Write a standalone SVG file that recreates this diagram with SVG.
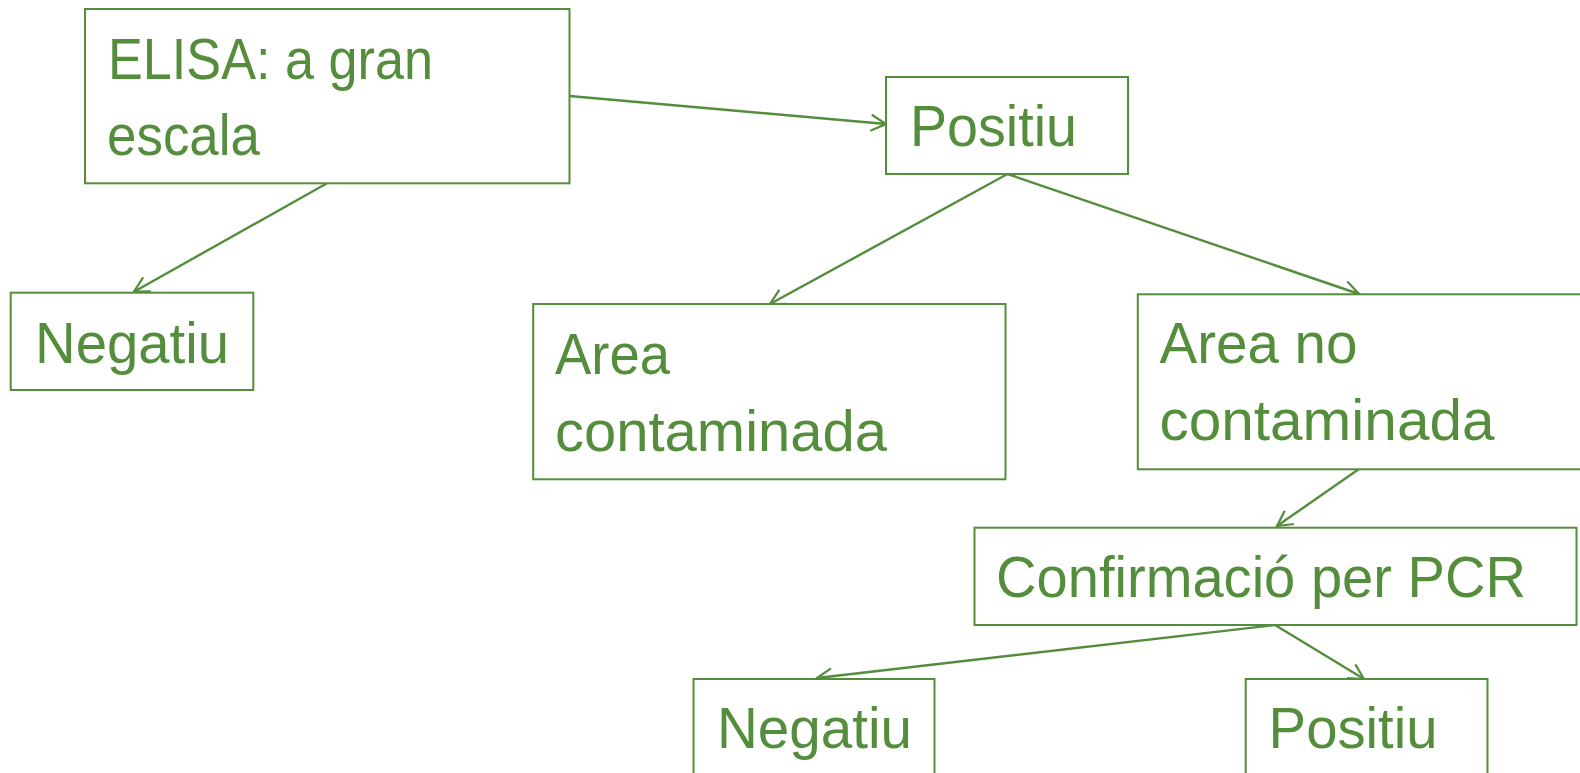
<svg xmlns="http://www.w3.org/2000/svg" width="1580" height="773" viewBox="0 0 1580 773">
<style>
.box{fill:#ffffff;stroke:#548D3B;stroke-width:2}
.t{font-family:"Liberation Sans",Arial,sans-serif;font-size:58px;fill:#548D3B}
.c{stroke:#548D3B;stroke-width:2.4;fill:none;marker-end:url(#arr)}
</style>
<defs>
<marker id="arr" viewBox="0 0 20 20" refX="18" refY="10" markerWidth="20" markerHeight="20" markerUnits="userSpaceOnUse" orient="auto">
<path d="M3,2 L18,10 L3,18" fill="none" stroke="#548D3B" stroke-width="2.2"/>
</marker>
</defs>
<rect width="1580" height="773" fill="#ffffff"/>
<g id="connectors">
<line class="c" x1="569.5" y1="96" x2="886" y2="124"/>
<line class="c" x1="327" y1="183.3" x2="134" y2="291.7"/>
<line class="c" x1="1007.5" y1="174" x2="770" y2="304"/>
<line class="c" x1="1007.5" y1="174" x2="1359" y2="294"/>
<line class="c" x1="1359" y1="469" x2="1277" y2="526"/>
<line class="c" x1="1275" y1="625" x2="817" y2="678"/>
<line class="c" x1="1275" y1="625" x2="1364" y2="679"/>
</g>
<g id="elisa">
<rect class="box" x="85" y="9" width="484.5" height="174.3"/>
<text class="t" x="108" y="79" textLength="325" lengthAdjust="spacingAndGlyphs">ELISA: a gran</text>
<text class="t" x="107" y="155" textLength="153" lengthAdjust="spacingAndGlyphs">escala</text>
</g>
<g id="positiu1">
<rect class="box" x="886" y="77" width="242" height="97"/>
<text class="t" x="910" y="146" textLength="167" lengthAdjust="spacingAndGlyphs">Positiu</text>
</g>
<g id="negatiu1">
<rect class="box" x="10.7" y="292.7" width="242.6" height="97.3"/>
<text class="t" x="35" y="362.7" textLength="194" lengthAdjust="spacingAndGlyphs">Negatiu</text>
</g>
<g id="area-contaminada">
<rect class="box" x="533.2" y="304" width="472.3" height="175.3"/>
<text class="t" x="555" y="374" textLength="115" lengthAdjust="spacingAndGlyphs">Area</text>
<text class="t" x="555" y="450.7" textLength="332" lengthAdjust="spacingAndGlyphs">contaminada</text>
</g>
<g id="area-no-contaminada">
<rect class="box" x="1137.8" y="294.3" width="480" height="175"/>
<text class="t" x="1159.5" y="363" textLength="198" lengthAdjust="spacingAndGlyphs">Area no</text>
<text class="t" x="1159.5" y="440" textLength="335" lengthAdjust="spacingAndGlyphs">contaminada</text>
</g>
<g id="pcr">
<rect class="box" x="974.5" y="527.7" width="602" height="97.3"/>
<text class="t" x="996" y="597" textLength="530" lengthAdjust="spacingAndGlyphs">Confirmació per PCR</text>
</g>
<g id="negatiu2">
<rect class="box" x="693.5" y="679" width="241" height="110"/>
<text class="t" x="717" y="748" textLength="195" lengthAdjust="spacingAndGlyphs">Negatiu</text>
</g>
<g id="positiu2">
<rect class="box" x="1245.7" y="679" width="241.8" height="110"/>
<text class="t" x="1268.6" y="748" textLength="169" lengthAdjust="spacingAndGlyphs">Positiu</text>
</g>
</svg>
